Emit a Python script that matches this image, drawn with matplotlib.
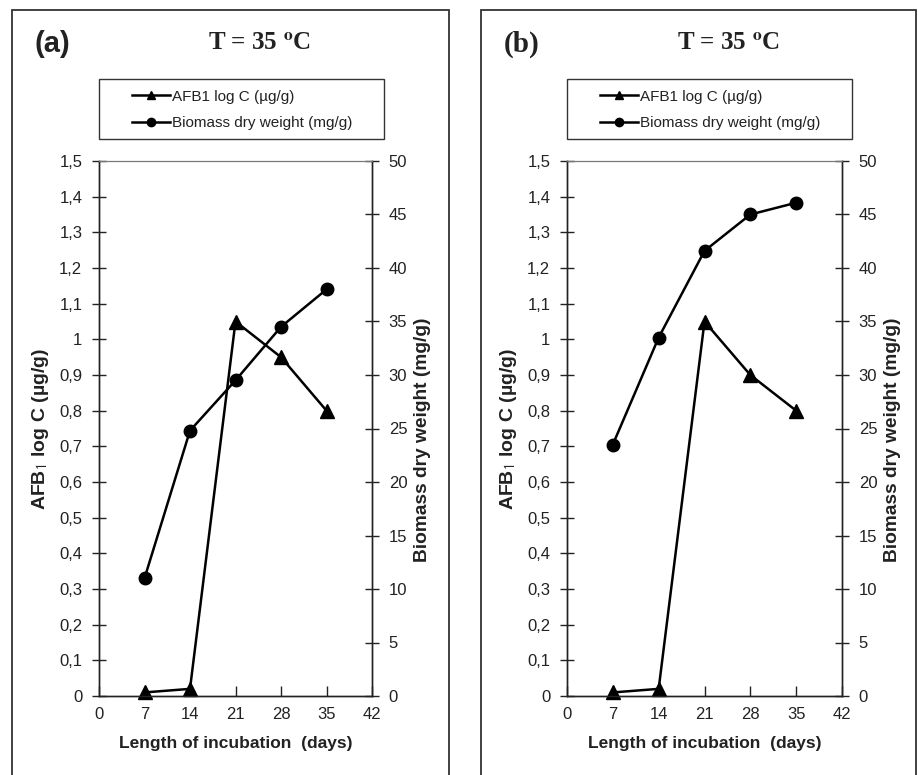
import matplotlib.pyplot as plt
from matplotlib.patches import Rectangle
from matplotlib.lines import Line2D
from matplotlib.ticker import FuncFormatter
import numpy as np

plt.rcParams["font.family"] = ["Liberation Sans", "DejaVu Sans"]
plt.rcParams["mathtext.fontset"] = "stix"

# data
days = [7, 14, 21, 28, 35]
afb1_a = [0.01, 0.02, 1.05, 0.95, 0.80]
biomass_a = [11.0, 24.8, 29.5, 34.5, 38.0]
afb1_b = [0.01, 0.02, 1.05, 0.90, 0.80]
biomass_b = [23.5, 33.5, 41.6, 45.0, 46.1]

x_ticks = [0, 7, 14, 21, 28, 35, 42]
left_ticks = np.round(np.arange(0, 1.51, 0.1), 1)
right_ticks = list(range(0, 51, 5))

W, H = 918, 775
fig = plt.figure(figsize=(W / 100, H / 100), dpi=100)
fig.patch.set_facecolor("white")

INK = "#222222"


def fx(px):
    return px / W


def fy(py):
    return 1 - py / H


def comma(v, pos):
    s = f"{v:.1f}".rstrip("0").rstrip(".")
    return s.replace(".", ",")


def panel(frame_x0, frame_x1, ax_x0, ax_x1, tag, tag_family, afb1, biomass):
    # outer frame (runs off the bottom of the image)
    fig.patches.append(Rectangle((fx(frame_x0), fy(790)), fx(frame_x1 - frame_x0),
                                 (790 - 10) / H, transform=fig.transFigure,
                                 fill=False, edgecolor="#333333", lw=1.3))

    ax = fig.add_axes([fx(ax_x0), fy(696), fx(ax_x1 - ax_x0), (696 - 161) / H])
    ax2 = ax.twinx()

    ax.plot(days, afb1, color="black", lw=1.8, marker="^", ms=10,
            clip_on=False, zorder=3)
    ax2.plot(days, biomass, color="black", lw=1.8, marker="o", ms=9,
             clip_on=False, zorder=3)

    ax.set_xlim(0, 42)
    ax.set_ylim(0, 1.5)
    ax2.set_ylim(0, 50)
    ax.set_xticks(x_ticks)
    ax.set_yticks(left_ticks)
    ax2.set_yticks(right_ticks)
    ax.yaxis.set_major_formatter(FuncFormatter(comma))

    for a in (ax, ax2):
        for s in a.spines.values():
            s.set_color(INK)
            s.set_linewidth(1.0)
        a.spines["top"].set_color("#777777")
        a.spines["top"].set_linewidth(0.8)
    ax.tick_params(axis="x", direction="in", length=7, width=1.0, color=INK,
                   labelsize=12, labelcolor=INK, pad=8)
    ax.tick_params(axis="y", direction="inout", length=10, width=1.0, color=INK,
                   labelsize=12, labelcolor=INK, pad=7)
    ax2.tick_params(axis="y", direction="inout", length=10, width=1.0, color=INK,
                    labelsize=12, labelcolor=INK, pad=7)

    ax.set_xlabel("Length of incubation  (days)", fontsize=12.5,
                  fontweight="bold", color=INK, labelpad=10)
    ax.set_ylabel("AFB$_\\mathsf{1}$ log C (µg/g)", fontsize=14,
                  fontweight="bold", color=INK, labelpad=6)
    ax2.set_ylabel("Biomass dry weight (mg/g)", fontsize=13.8,
                   fontweight="bold", color=INK)
    ax2.yaxis.set_label_coords(1 + 42 / (ax_x1 - ax_x0), (696 - 440) / 535)

    # panel tag and title
    fig.text(fx(frame_x0 + 23), fy(44), tag, family=tag_family,
             fontweight="bold", fontsize=21, color=INK, va="center", ha="left")
    fig.text(fx(frame_x0 + 248), fy(44), "T = 35 $^{\\mathbf{o}}$C",
             family="Liberation Serif", fontweight="bold", fontsize=18,
             color=INK, va="center", ha="center")

    # legend box
    fig.patches.append(Rectangle((fx(ax_x0), fy(139)), fx(285), (139 - 79) / H,
                                 transform=fig.transFigure, fill=False,
                                 edgecolor="#333333", lw=1.0))
    handles = [
        Line2D([], [], color="black", lw=1.8, marker="^", ms=6),
        Line2D([], [], color="black", lw=1.8, marker="o", ms=6),
    ]
    fig.legend(handles, ["AFB1 log C (µg/g)", "Biomass dry weight (mg/g)"],
               loc="upper left", bbox_to_anchor=(fx(ax_x0 + 22), fy(79)),
               frameon=False, fontsize=11, handlelength=2.5, handletextpad=0.13,
               labelspacing=0.8, borderpad=0.2, labelcolor=INK)


panel(12, 449, 99, 372, "(a)", "Liberation Sans", afb1_a, biomass_a)
panel(481, 916, 567, 842, "(b)", "Liberation Serif", afb1_b, biomass_b)

fig.savefig("out.png", dpi=100, facecolor="white")
